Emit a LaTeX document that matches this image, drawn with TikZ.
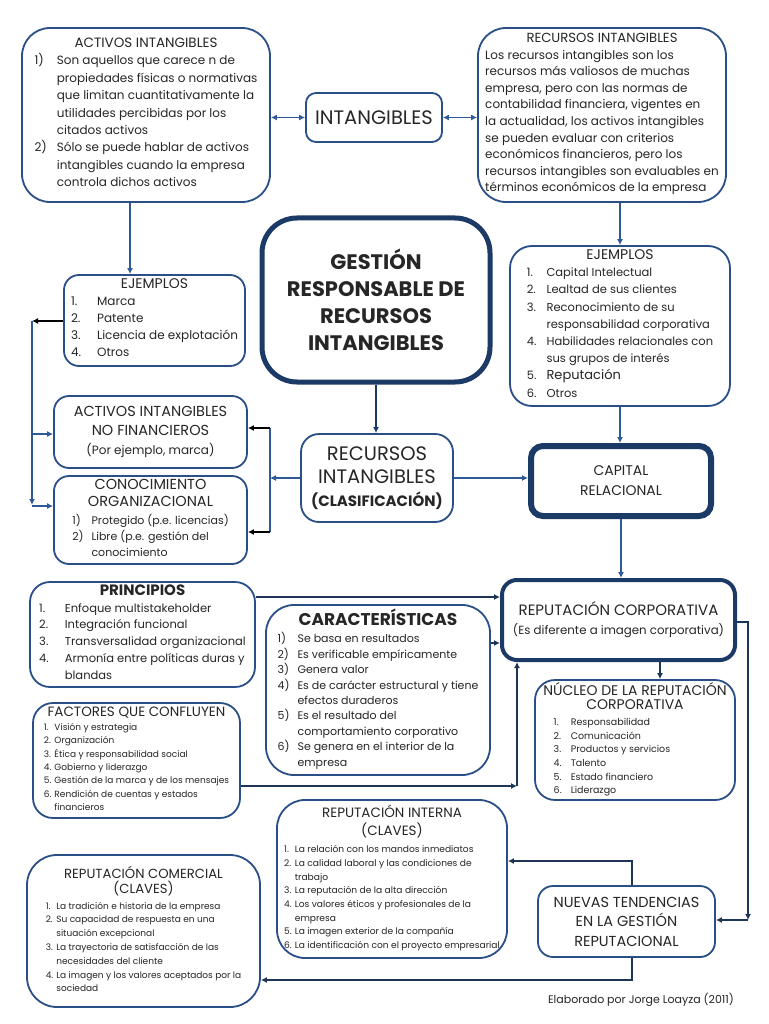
\documentclass[tikz,border=0pt]{standalone}
\usepackage{fontspec}
\setmainfont{Poppins}
\usetikzlibrary{arrows.meta,calc}
\definecolor{boxc}{HTML}{2A4F86}
\definecolor{thickc}{HTML}{1C3A66}
\definecolor{linec}{HTML}{2E5A97}
\definecolor{darkc}{HTML}{1F3557}
\definecolor{txt}{HTML}{262626}
\newcommand{\fs}[2]{\fontsize{#1}{#2}\selectfont}
\begin{document}
\begin{tikzpicture}[x=1pt,y=-1pt,
  box/.style={draw=boxc, line width=1.8pt, fill=white, inner sep=0pt, align=center, text=txt},
  tbox/.style={box, draw=thickc},
  arr/.style={draw=linec, line width=1.8pt, -{Latex[length=6pt,width=6pt]}},
  dbl/.style={draw=linec, line width=1.8pt, {Latex[length=6pt,width=6pt]}-{Latex[length=6pt,width=6pt]}},
  blk/.style={draw=black, line width=1.3pt, -{Latex[length=6pt,width=6pt]}},
  ln/.style={draw=linec, line width=1.8pt},
  darr/.style={draw=darkc, line width=1.8pt, -{Latex[length=6pt,width=6pt]}},
  dln/.style={draw=darkc, line width=1.8pt},
]
\useasboundingbox[fill=white] (0,0) rectangle (768,1024);

% ---------- top row ----------
\node[box, font=\fs{12}{17.4}, rounded corners=28pt, minimum width=248pt, minimum height=174pt] (act) at (146,115)
{{\fs{13.5}{17.4}ACTIVOS INTANGIBLES}\\
\begin{tabular}[t]{@{}l@{\hspace{10pt}}l@{}}
1) & Son aquellos que carece n de\\
   & propiedades físicas o normativas\\
   & que limitan cuantitativamente la\\
   & utilidades percibidas por  los\\
   & citados activos\\
2) & Sólo se puede hablar de activos\\
   & intangibles cuando la empresa\\
   & controla dichos activos
\end{tabular}};

\node[box, font=\fs{19.5}{22}, rounded corners=10pt, minimum width=136pt, minimum height=49pt] (intang) at (374,117.5)
{INTANGIBLES};

\node[box, font=\fs{12}{16.6}, rounded corners=28pt, minimum width=248pt, minimum height=174pt] (rec) at (602,115)
{{\fs{13.2}{16.6}RECURSOS INTANGIBLES}\\
\begin{tabular}[t]{@{}l@{}}
Los recursos intangibles son los\\
recursos más valiosos de muchas\\
empresa, pero con las normas de\\
contabilidad financiera, vigentes en\\
la actualidad, los activos intangibles\\
se pueden evaluar con criterios\\
económicos financieros, pero los\\
recursos intangibles son evaluables en\\
términos económicos de la empresa
\end{tabular}};

% ---------- second row ----------
\node[box, font=\fs{12}{17}, rounded corners=15pt, minimum width=181pt, minimum height=91pt] (ejl) at (154.5,320.5)
{{\fs{14}{17}EJEMPLOS}\\
\begin{tabular}[t]{@{}l@{\hspace{16pt}}l@{}}
1. & Marca\\
2. & Patente\\
3. & Licencia de explotación\\
4. & Otros
\end{tabular}};

\node[tbox, font=\fs{21}{27}\bfseries, line width=5pt, rounded corners=35pt, minimum width=228pt, minimum height=164pt] (gest) at (376,300)
{GESTIÓN\\ RESPONSABLE DE\\ RECURSOS\\ INTANGIBLES};

\node[box, font=\fs{11.5}{17.2}, rounded corners=22pt, minimum width=220pt, minimum height=160pt] (ejr) at (620,326)
{{\fs{14}{17.2}EJEMPLOS}\\
\begin{tabular}[t]{@{}l@{\hspace{10pt}}l@{}}
1. & Capital Intelectual\\
2. & Lealtad de sus clientes\\
3. & Reconocimiento de su\\
   & responsabilidad corporativa\\
4. & Habilidades relacionales con\\
   & sus grupos de interés\\
5. & {\fs{13}{17.2}Reputación}\\
6. & Otros
\end{tabular}};

% ---------- classification row ----------
\node[box, font=\fs{14.5}{19}, rounded corners=15pt, minimum width=193pt, minimum height=72pt] (nofin) at (150.5,432)
{ACTIVOS INTANGIBLES\\ NO FINANCIEROS\\ {\fs{12}{18}(Por ejemplo, marca)}};

\node[box, font=\fs{14.5}{17.5}, rounded corners=15pt, minimum width=193pt, minimum height=88pt] (cono) at (150.5,520)
{CONOCIMIENTO\\ ORGANIZACIONAL\\
{\fs{11}{16}\begin{tabular}[t]{@{}l@{\hspace{8pt}}l@{}}
1) & Protegido (p.e. licencias)\\
2) & Libre (p.e. gestión del\\
   & conocimiento
\end{tabular}}};

\node[box, font=\fs{19.5}{23}, rounded corners=18pt, minimum width=152pt, minimum height=88pt] (clas) at (377,478)
{RECURSOS\\ INTANGIBLES\\ {\fs{15}{20}\bfseries (CLASIFICACIÓN)}};

\node[tbox, font=\fs{14}{20}, line width=6pt, rounded corners=12pt, minimum width=180pt, minimum height=70pt] (cap) at (621,481)
{CAPITAL\\ RELACIONAL};

% ---------- reputation area ----------
\node[box, font=\fs{11.5}{16.8}, rounded corners=20pt, minimum width=225pt, minimum height=105pt] (prin) at (142.5,634.5)
{{\fs{15}{17}\bfseries PRINCIPIOS}\\
\begin{tabular}[t]{@{}l@{\hspace{16pt}}l@{}}
1. & Enfoque multistakeholder\\
2. & Integración funcional\\
3. & Transversalidad organizacional\\
4. & Armonía entre políticas duras y\\
   & blandas
\end{tabular}};

\node[box, font=\fs{11}{15.4}, rounded corners=28pt, minimum width=224pt, minimum height=170pt] (car) at (378,690)
{{\fs{17}{18}\bfseries CARACTERÍSTICAS}\\[1.5pt]
\begin{tabular}[t]{@{}l@{\hspace{8pt}}l@{}}
1) & Se basa en resultados\\
2) & Es verificable empíricamente\\
3) & Genera valor\\
4) & Es de carácter estructural y tiene\\
   & efectos duraderos\\
5) & Es el resultado del\\
   & comportamiento corporativo\\
6) & Se genera en el interior de la\\
   & empresa
\end{tabular}};

\node[tbox, font=\fs{15}{19}, line width=4pt, rounded corners=15pt, minimum width=233pt, minimum height=80pt] (rcorp) at (618.5,620)
{REPUTACIÓN CORPORATIVA\\ {\fs{11.8}{19}(Es diferente a imagen corporativa)}};

\node[box, font=\fs{9}{13.3}, rounded corners=20pt, minimum width=207pt, minimum height=115pt] (fac) at (136.5,760.5)
{{\fs{13.5}{15}FACTORES QUE CONFLUYEN}\\[1pt]
\begin{tabular}[t]{@{}l@{\hspace{3pt}}l@{}}
1. & Visión y estrategia\\
2. & Organización\\
3. & Ética y responsabilidad social\\
4. & Gobierno y liderazgo\\
5. & Gestión de la marca y de los mensajes\\
6. & Rendición de cuentas y estados\\
   & financieros
\end{tabular}};

\node[box, font=\fs{14}{14.5}, rounded corners=20pt, minimum width=200pt, minimum height=120pt] (nuc) at (635,740)
{NÚCLEO DE LA REPUTACIÓN\\ CORPORATIVA\\[1.5pt]
{\fs{9.5}{13.6}\begin{tabular}[t]{@{}l@{\hspace{9pt}}l@{}}
1. & Responsabilidad\\
2. & Comunicación\\
3. & Productos y servicios\\
4. & Talento\\
5. & Estado financiero\\
6. & Liderazgo
\end{tabular}}\hspace*{46pt}};

\node[box, font=\fs{13.5}{17.5}, rounded corners=28pt, minimum width=230pt, minimum height=158pt] (rint) at (392,879)
{REPUTACIÓN INTERNA\\ (CLAVES)\\
{\fs{9.1}{13.7}\begin{tabular}[t]{@{}l@{\hspace{3pt}}l@{}}
1. & La relación con los mandos inmediatos\\
2. & La calidad laboral y las condiciones de\\
   & trabajo\\
3. & La reputación de la alta dirección\\
4. & Los valores éticos y profesionales de la\\
   & empresa\\
5. & La imagen exterior de la compañía\\
6. & La identificación con el proyecto empresarial
\end{tabular}}};

\node[box, font=\fs{13.2}{15.5}, rounded corners=30pt, minimum width=233pt, minimum height=152pt] (rcom) at (143.5,931)
{REPUTACIÓN COMERCIAL\\ (CLAVES)\\
{\fs{9}{13.8}\begin{tabular}[t]{@{}l@{\hspace{3pt}}l@{}}
1. & La tradición e historia de la empresa\\
2. & Su capacidad de respuesta en una\\
   & situación excepcional\\
3. & La trayectoria de satisfacción de las\\
   & necesidades del cliente\\
4. & La imagen y los valores aceptados por la\\
   & sociedad
\end{tabular}}};

\node[box, font=\fs{14.5}{19.5}, rounded corners=15pt, minimum width=177pt, minimum height=71pt] (nuev) at (626.5,921.5)
{NUEVAS TENDENCIAS\\ EN LA GESTIÓN\\ REPUTACIONAL};

\node[text=txt, font=\fs{11}{13}, inner sep=0pt] (footer) at (641,1000) {Elaborado por Jorge Loayza (2011)};

% ---------- connectors ----------
\draw[dbl] (intang.west -| act.east) -- (intang.west);
\draw[dbl] (intang.east) -- (intang.east -| rec.west);
\draw[arr] ([xshift=-16pt]act.south) -- ([xshift=-24.5pt]ejl.north);
\draw[arr] ([xshift=18pt]rec.south) -- (ejr.north);
\draw[arr, line width=2.5pt, draw=thickc] (gest.south) -- (gest.south |- clas.north);
\draw[arr] (ejr.south) -- (ejr.south |- cap.north);
\draw[arr] (clas.east) -- (clas.east -| cap.west);

% classification branch to the left
\coordinate (jm) at (270,478);
\coordinate (jt) at (270,428);
\coordinate (jb) at (270,532);
\draw[arr] (clas.west |- jm) -- (jm);
\draw[ln] (jt) -- (jb);
\draw[blk] (jt) -- (jt -| nofin.east);
\draw[blk] (jb) -- (jb -| cono.east);

% ejemplos (left) branch
\coordinate (ea) at (32,321);
\coordinate (eb) at (32,505);
\coordinate (e1) at (32,434);
\coordinate (e2) at (32,506);
\draw[blk] (ejl.west |- ea) -- (ea);
\draw[arr] (ea) -- (eb);
\draw[arr] (e1) -- (e1 -| nofin.west);
\draw[arr] (e2) -- (e2 -| cono.west);

% reputation
\draw[arr] (cap.south) -- (cap.south |- rcorp.north);
\draw[darr] ([yshift=37.5pt]prin.east) -- ([yshift=37.5pt]prin.east -| rcorp.west);
\draw[darr] ([yshift=47pt]car.east) -- ([yshift=47pt]car.east -| rcorp.west);
\coordinate (fc) at (517,786);
\draw[darr] ([yshift=-25.5pt]fac.east) -- (fc);
\draw[darr] (fc) -- (fc |- rcorp.south);
\draw[darr] ([xshift=41.5pt]rcorp.south) -- ([xshift=25pt]nuc.north);
\coordinate (rc1) at (748,622);
\coordinate (rc2) at (748,920);
\draw[darr, line width=1.5pt] (rcorp.east |- rc1) -- (rc1) -- (rc2);
\draw[darr] (rc2) -- (rc2 -| nuev.east);
\coordinate (n1) at (632,861);
\coordinate (n2) at (632,980);
\draw[darr] ([xshift=5.5pt]nuev.north) -- (n1) -- (n1 -| rint.east);
\draw[darr] ([xshift=5.5pt]nuev.south) -- (n2) -- (n2 -| rcom.east);
\end{tikzpicture}
\end{document}
